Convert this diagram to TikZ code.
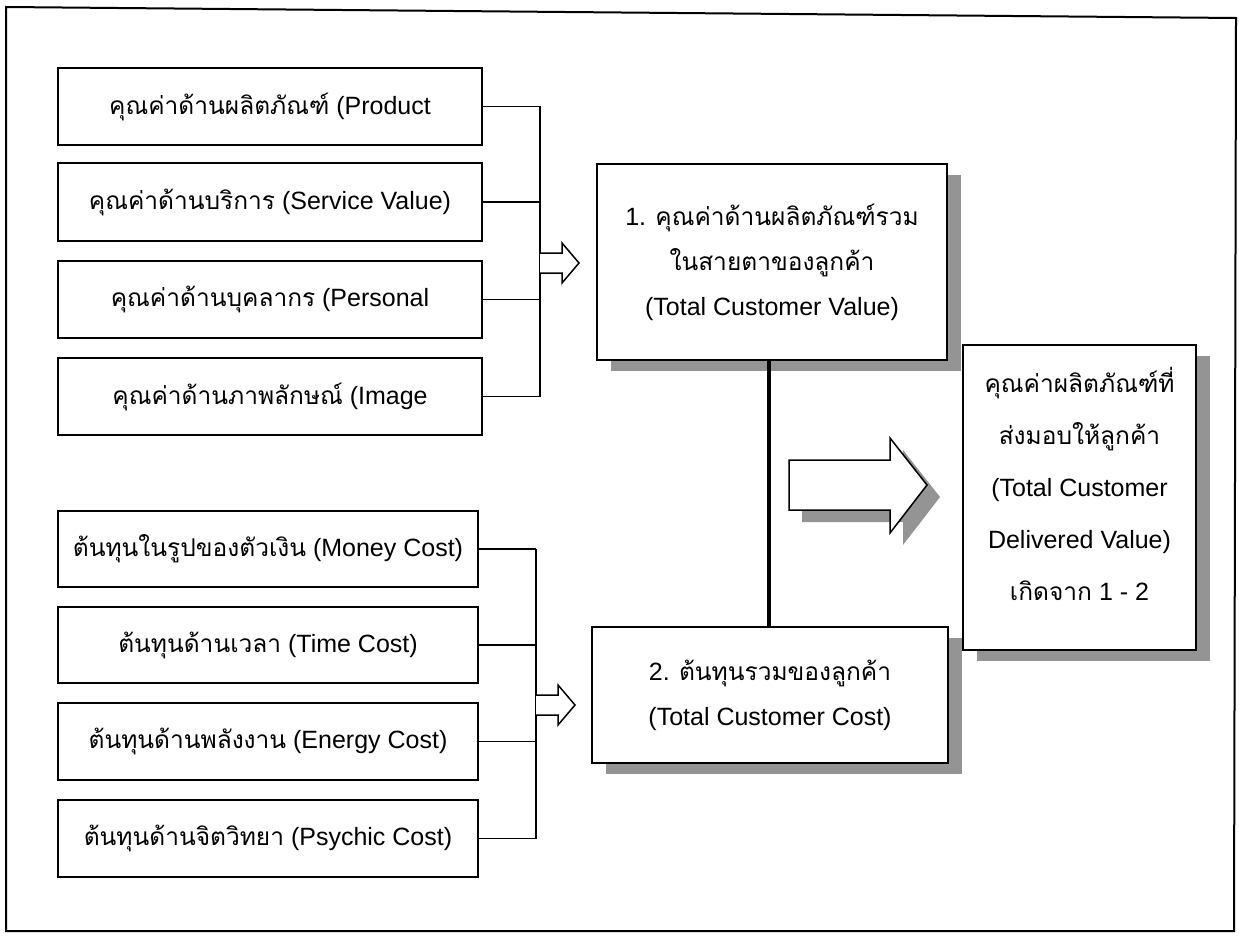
\documentclass[tikz,border=0pt]{standalone}
\usepackage{fontspec}
\setmainfont{Liberation Sans}
\newfontfamily\thai[Script=Thai,Scale=0.98]{Loma}
\usetikzlibrary{shadows}
\begin{document}
\begin{tikzpicture}[x=1pt,y=-1pt,
  line width=2pt,
  every node/.style={font=\fontsize{25}{45}\selectfont},
  box/.style={draw, fill=white, inner sep=0pt, align=center},
  sbox/.style={box, drop shadow={shadow xshift=14pt, shadow yshift=-11pt, fill=black!42, opacity=1}},
  conn/.style={line width=1.5pt},
  openarrow/.style={draw, fill=white, line width=1.5pt, line join=miter}
]
\useasboundingbox (0,0) rectangle (1239,936);
\draw[line width=2pt] (6,7) -- (1236,18) -- (1234,931) -- (6,931) -- cycle;

% top group
\node[box, minimum width=424pt, minimum height=77pt] (v1) at (270,106.5) {{\thai คุณค่าด้านผลิตภัณฑ์} (Product};
\node[box, minimum width=424pt, minimum height=78pt] (v2) at (270,202) {{\thai คุณค่าด้านบริการ} (Service Value)};
\node[box, minimum width=424pt, minimum height=77pt] (v3) at (270,299.5) {{\thai คุณค่าด้านบุคลากร} (Personal};
\node[box, minimum width=424pt, minimum height=77pt] (v4) at (270,396.5) {{\thai คุณค่าด้านภาพลักษณ์} (Image};
\coordinate (tb) at (540,0);
\foreach \n in {v1,v2,v3,v4} \draw[conn] (\n.east) -- (\n.east -| tb);
\draw[conn] (v1.east -| tb) -- (v4.east -| tb);
\draw[openarrow] (540,253) -- (562,253) -- (562,243) -- (579,263) -- (562,283) -- (562,273) -- (540,273);

% bottom group
\node[box, minimum width=420pt, minimum height=76pt] (c1) at (268,549) {{\thai ต้นทุนในรูปของตัวเงิน} (Money Cost)};
\node[box, minimum width=420pt, minimum height=76pt] (c2) at (268,645) {{\thai ต้นทุนด้านเวลา} (Time Cost)};
\node[box, minimum width=420pt, minimum height=77pt] (c3) at (268,741.5) {{\thai ต้นทุนด้านพลังงาน} (Energy Cost)};
\node[box, minimum width=420pt, minimum height=77pt] (c4) at (268,838.5) {{\thai ต้นทุนด้านจิตวิทยา} (Psychic Cost)};
\coordinate (bb) at (536,0);
\foreach \n in {c1,c2,c3,c4} \draw[conn] (\n.east) -- (\n.east -| bb);
\draw[conn] (c1.east -| bb) -- (c4.east -| bb);
\draw[openarrow] (536,695) -- (558,695) -- (558,685) -- (575,705) -- (558,725) -- (558,715) -- (536,715);

% totals
\node[sbox, minimum width=350pt, minimum height=196pt] (tcv) at (772,262) {1. {\thai คุณค่าด้านผลิตภัณฑ์รวม}\\{\thai ในสายตาของลูกค้า}\\(Total Customer Value)};
\node[sbox, minimum width=356pt, minimum height=136pt] (tcc) at (770,695) {2. {\thai ต้นทุนรวมของลูกค้า}\\(Total Customer Cost)};
\draw[line width=3.5pt] (tcv.south -| 769,0) -- (tcc.north -| 769,0);

% big arrow with shadow
\fill[black!42] (802,472) -- (903,472) -- (903,450) -- (940,497) -- (903,545) -- (903,522) -- (802,522) -- cycle;
\draw[openarrow] (789,460) -- (890,460) -- (890,438) -- (927,485) -- (890,533) -- (890,510) -- (789,510) -- cycle;

% delivered value
\node[sbox, minimum width=233pt, minimum height=305pt] (tdv) at (1079.5,497.5) {};
\node[font=\fontsize{25}{52}\selectfont, align=center] (tdvt) at (1079.5,483.5) {{\thai คุณค่าผลิตภัณฑ์ที่}\\{\thai ส่งมอบให้ลูกค้า}\\(Total Customer\\Delivered Value)\\{\thai เกิดจาก} 1 - 2};
\end{tikzpicture}
\end{document}
